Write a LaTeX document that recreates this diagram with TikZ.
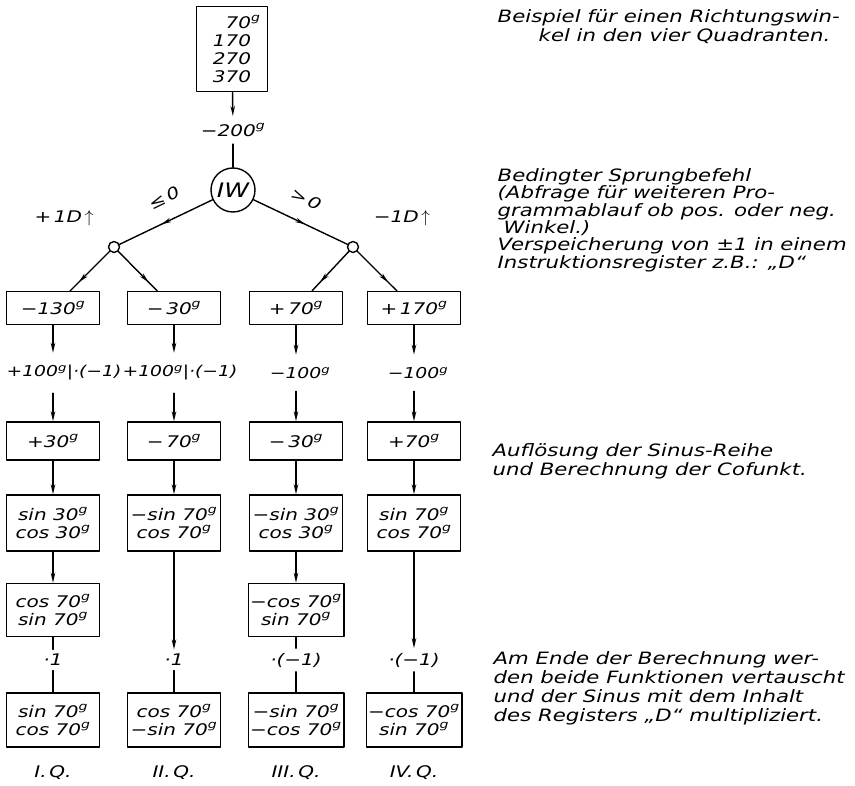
\documentclass[tikz,border=0pt]{standalone}
\usepackage{fontspec}
\setmainfont{DejaVu Sans}[FakeStretch=1.25]
\usetikzlibrary{arrows.meta, decorations.markings}
\newcommand{\gs}{\textsuperscript{g}}

\begin{document}
\begin{tikzpicture}[x=1pt, y=-1pt, line cap=round, line join=round, >={Stealth[length=10pt, width=4.5pt]}, font=\fontsize{16}{18}\selectfont\itshape, line width=1.4pt]
	\tikzset{
		kasten/.style={draw, minimum width=93pt, inner sep=2pt, align=center},
		zwischen/.style={inner xsep=0pt, inner ysep=12pt, align=center, font=\fontsize{15}{18}\selectfont\itshape},
		faktor/.style={inner xsep=1pt, inner ysep=4pt},
		pfeilmitte/.style={postaction={decorate}, decoration={markings, mark=at position #1 with {\arrow{>}}}},
		notiz/.style={anchor=north west, inner sep=0pt, align=left, font=\fontsize{17}{19}\selectfont\itshape},
	}
	\useasboundingbox (0,0) rectangle (855,786);
	
	% Eingabe und Sprungbefehl
	\node[draw, minimum width=71pt, minimum height=85pt, align=right] (E) at (232,49) {70\rlap{\gs}\\170\\270\\370};
	\node[inner ysep=7pt] (M200) at (233,130) {−200\gs};
	\node[draw, circle, minimum size=44pt, inner sep=0pt, font=\fontsize{20}{20}\selectfont\itshape] (IW) at (233,190) {IW};
	\node[draw, circle, minimum size=11pt, inner sep=0pt] (KL) at (114,247) {};
	\node[draw, circle, minimum size=11pt, inner sep=0pt] (KR) at (353,247) {};
	\draw[->] (E) -- (M200);
	\draw (M200) -- (IW);
	\draw[pfeilmitte=.55] (IW) -- (KL);
	\draw[pfeilmitte=.55] (IW) -- (KR);
	\node[rotate=26, inner sep=1pt] (kleiner) at (164,198) {≤\,0};
	\node[rotate=-26, inner sep=1pt] (groesser) at (306,199) {>\,0};
	\node (plusD) at (64,218) {+\,1D\,$\uparrow$};
	\node (minusD) at (402,218) {−1D\,$\uparrow$};
	
	% die vier Quadranten
	\foreach \i/\x/\lx/\a/\l/\b/\c/\m/\f/\q in {
		1/53/64/{−130\gs}/{+100\gs|·(−1)}/{+30\gs}/{sin 30\gs\\cos 30\gs}/{·1}/{sin 70\gs\\cos 70\gs}/{I.\,Q.},
		2/174/180/{−\,30\gs}/{+100\gs|·(−1)}/{−\,70\gs}/{−sin 70\gs\\cos 70\gs}/{·1}/{cos 70\gs\\−sin 70\gs}/{II.\,Q.},
		3/296/300/{+\,70\gs}/{−100\gs}/{−\,30\gs}/{−sin 30\gs\\cos 30\gs}/{·(−1)}/{−sin 70\gs\\−cos 70\gs}/{III.\,Q.},
		4/414/418/{+\,170\gs}/{−100\gs}/{+70\gs}/{sin 70\gs\\cos 70\gs}/{·(−1)}/{−cos 70\gs\\sin 70\gs}/{IV.\,Q.}%
	} {
		\node[kasten, minimum height=33pt] (A\i) at (\x,308) {\a};
		\node[zwischen] (L\i) at (\lx,373) {\l};
		\node[kasten, minimum height=38pt] (B\i) at (\x,441) {\b};
		\node[kasten, minimum height=56pt] (C\i) at (\x,523) {\c};
		\node[faktor] (M\i) at (\x,660) {\m};
		\node[kasten, minimum height=54pt] (F\i) at (\x,720) {\f};
		\node (Q\i) at (\x,773) {\q};
		\draw[->] (A\i) -- (A\i |- L\i.north);
		\draw[->] (A\i |- L\i.south) -- (B\i);
		\draw[->] (B\i) -- (C\i);
		\draw (M\i) -- (F\i);
	}
	\draw[pfeilmitte=.78] (KL) -- (A1);
	\draw[pfeilmitte=.78] (KL) -- (A2);
	\draw[pfeilmitte=.78] (KR) -- (A3);
	\draw[pfeilmitte=.78] (KR) -- (A4);
	
	% Cofunktionen
	\node[kasten, minimum height=53pt] (D1) at (53,610) {cos 70\gs\\sin 70\gs};
	\node[kasten, minimum height=53pt] (D3) at (296,610) {−cos 70\gs\\sin 70\gs};
	\draw[->] (C1) -- (D1);
	\draw[->] (C3) -- (D3);
	\draw (D1) -- (M1);
	\draw (D3) -- (M3);
	\draw[->] (C2) -- (M2);
	\draw[->] (C4) -- (M4);
	
	% Erläuterungen
	\node[notiz] (N1) at (497,9) {Beispiel für einen Richtungswin-\\\hspace*{41pt}kel in den vier Quadranten.};
	\node[notiz, font=\fontsize{17}{17.3}\selectfont\itshape] (N2) at (497,168) {Bedingter Sprungbefehl\\(Abfrage für weiteren Pro-\\grammablauf ob pos. oder neg.\\\hspace*{6pt}Winkel.)\\Verspeicherung von ±1 in einem\\Instruktionsregister z.B.: „D“};
	\node[notiz] (N3) at (492,443) {Auflösung der Sinus-Reihe\\und Berechnung der Cofunkt.};
	\node[notiz] (N4) at (493,651) {Am Ende der Berechnung wer-\\den beide Funktionen vertauscht\\und der Sinus mit dem Inhalt\\des Registers „D“ multipliziert.};
\end{tikzpicture}
\end{document}
